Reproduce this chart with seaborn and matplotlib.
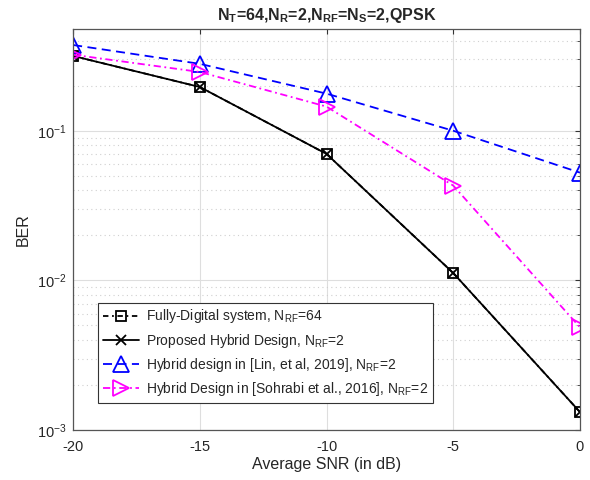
import seaborn as sns
import pandas as pd
import matplotlib.pyplot as plt
import matplotlib.ticker as mticker

snr = [-20, -15, -10, -5, 0]
ber_digital = [0.316, 0.196, 0.070, 0.0112, 0.00132]
ber_proposed = [0.316, 0.196, 0.070, 0.0112, 0.00132]
ber_lin = [0.374, 0.28, 0.177, 0.100, 0.0525]
ber_sohrabi = [0.322, 0.247, 0.145, 0.043, 0.00486]

labels = [
    r'Fully-Digital system, N$_{\mathregular{RF}}$=64',
    r'Proposed Hybrid Design, N$_{\mathregular{RF}}$=2',
    r'Hybrid design in [Lin, et al, 2019], N$_{\mathregular{RF}}$=2',
    r'Hybrid Design in [Sohrabi et al., 2016], N$_{\mathregular{RF}}$=2',
]

sns.set_style('white')
plt.rcParams['font.family'] = ['Liberation Sans', 'DejaVu Sans']
plt.rcParams['mathtext.fontset'] = 'custom'
plt.rcParams['mathtext.rm'] = 'Liberation Sans'
plt.rcParams['mathtext.it'] = 'Liberation Sans'
plt.rcParams['mathtext.bf'] = 'Liberation Sans:bold'
plt.rcParams['axes.unicode_minus'] = False

fig, ax = plt.subplots(figsize=(5.9, 4.8), dpi=100)
fig.subplots_adjust(left=0.124, right=0.983, bottom=0.104, top=0.94)

styles = [
    (ber_digital, 'black', (0, (3, 2, 1, 2)), 's', 7, labels[0]),
    (ber_proposed, 'black', '-', 'x', 7, labels[1]),
    (ber_lin, '#0000ff', (0, (5, 3)), '^', 12, labels[2]),
    (ber_sohrabi, '#ff00ff', (0, (4, 2, 1, 2)), '>', 12, labels[3]),
]
for vals, c, ls, mk, ms, lab in styles:
    df = pd.DataFrame({'snr': snr, 'ber': vals})
    sns.lineplot(data=df, x='snr', y='ber', ax=ax, color=c, linestyle=ls,
                 marker=mk, markersize=ms, markerfacecolor='none',
                 markeredgecolor=c, markeredgewidth=1.3, linewidth=1.3,
                 label=lab)

ax.set_yscale('log')
ax.set_xlim(-20, 0)
ax.set_ylim(1e-3, 0.48)
ax.set_xticks(snr)
ax.yaxis.set_major_locator(mticker.LogLocator(base=10))
ax.yaxis.set_minor_locator(mticker.LogLocator(base=10, subs=range(2, 10)))
ax.grid(True, which='major', color='#dedede', linewidth=0.8)
ax.grid(True, which='minor', axis='y', color='#d0d0d0', linestyle=(0, (1, 3)), linewidth=0.8)
ax.tick_params(which='both', direction='in', top=True, right=True, colors='#333333',
               labelsize=10.5, labelcolor='#262626')
ax.tick_params(axis='x', pad=7)
ax.tick_params(axis='y', pad=5)
for s in ax.spines.values():
    s.set_color('#555555')
    s.set_linewidth(0.9)

ax.set_xlabel('Average SNR (in dB)', fontsize=11.5, color='#262626', labelpad=2)
ax.set_ylabel('BER', fontsize=11.5, color='#262626')
ax.set_title(r'N$_{\mathregular{T}}$=64,N$_{\mathregular{R}}$=2,N$_{\mathregular{RF}}$=N$_{\mathregular{S}}$=2,QPSK',
             fontsize=11.5, fontweight='bold', pad=6)

leg = ax.legend(loc='lower left', bbox_to_anchor=(0.035, 0.05), fontsize=10,
                frameon=True, fancybox=False, framealpha=1, edgecolor='#333333',
                handlelength=2.6, handletextpad=0.5, borderpad=0.35, labelspacing=0.45)
leg.get_frame().set_linewidth(0.8)

fig.savefig('out.png', dpi=100)
